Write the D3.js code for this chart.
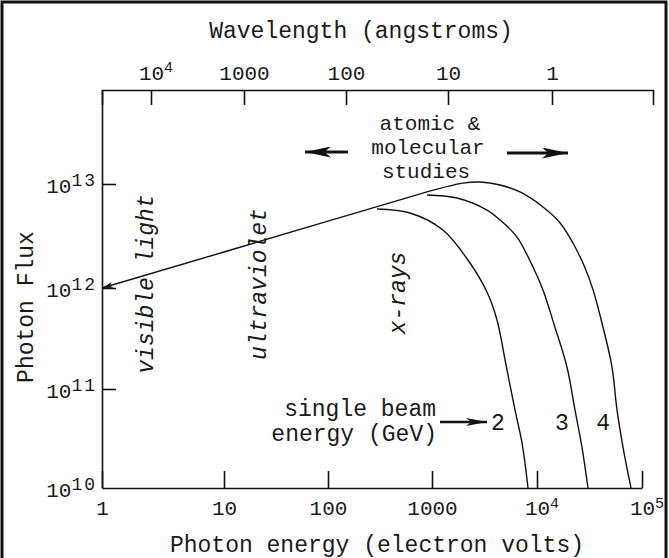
<!DOCTYPE html>
<html>
<head>
<meta charset="utf-8">
<script src="https://cdn.jsdelivr.net/npm/d3@7"></script>
<style>
  body { margin: 0; background: #fff; }
  svg { display: block; }
  text { font-family: "Liberation Mono", "Courier New", monospace; fill: #1a1a1a; }
  .axis path, .axis line { stroke: #111; stroke-width: 1.6; }
  .curve { fill: none; stroke: #111; stroke-width: 1.4; }
</style>
</head>
<body>
<svg id="graf" width="669" height="558"></svg>
<script>
// datos
const energyTicks = [1, 10, 100, 1000, 1e4, 1e5];        // eV
const fluxTicks = [1e10, 1e11, 1e12, 1e13];
const wavelengthTicks = [1e4, 1000, 100, 10, 1];          // angstroms

// envolvente comun (luz visible -> ~900 eV)
const envelope = [[1, 1e12], [10, 2.22e12], [100, 4.39e12], [895, 8.4e12]];
// curvas por energia del haz (GeV)
const beam2 = [[296, 5.75e12], [614, 5.26e12], [1270, 3.61e12], [2300, 1.74e12], [3340, 9.12e11],
  [4160, 4.82e11], [5070, 1.73e11], [6170, 6.14e10], [7200, 2.85e10], [8210, 1e10]];
const beam3 = [[895, 7.83e12], [1730, 7.33e12], [3340, 5.62e12], [4450, 4.51e12], [6450, 3.09e12],
  [9160, 1.59e12], [11400, 9.55e11], [14800, 4.11e11], [19300, 1.65e11], [23000, 6.14e10],
  [26800, 2.59e10], [30600, 1e10]];
const beam4 = [[895, 8.4e12], [1970, 1.02e13], [2870, 1.045e13], [4450, 9.78e12], [6890, 8.38e12],
  [11400, 6.01e12], [16600, 4.22e12], [22000, 2.71e12], [28700, 1.56e12], [34200, 9.55e11],
  [42500, 4.11e11], [51800, 1.65e11], [57800, 6.14e10], [65900, 2.59e10], [78600, 1e10]];
const beamNames = ["2", "3", "4"];
const beamLabelEnergy = [4250, 17300, 42600];

const svg = d3.select("#graf");

// escalas (la figura original esta dibujada a mano: decadas no uniformes)
const x = d3.scaleLog().domain([1, 10, 100, 1000, 1e4, 1e5]).range([102, 224, 328, 432, 537, 642]);
const y = d3.scaleLog().domain([1e10, 1e11, 1e12, 1e13, 8e13]).range([488, 389, 288, 184, 90]);
const xTop = d3.scaleLog().domain([2e4, 1e4, 1e3, 100, 10, 1, 0.1]).range([102, 151, 244, 346, 448, 552, 653]);

// marco
svg.append("rect").attr("x", 2).attr("y", 2).attr("width", 664).attr("height", 580)
  .attr("fill", "none").attr("stroke", "#111").attr("stroke-width", 3);

// puntas de flecha
const defs = svg.append("defs");
const addHead = (id, w, h) => {
  defs.append("marker").attr("id", id).attr("markerUnits", "userSpaceOnUse")
    .attr("markerWidth", w).attr("markerHeight", h).attr("refX", w).attr("refY", h / 2)
    .attr("orient", "auto-start-reverse")
    .append("path").attr("d", `M0,0 L${w},${h / 2} L0,${h} L${w * 0.25},${h / 2} Z`).attr("fill", "#111");
};
addHead("hSmall", 11, 6);
addHead("hBig", 26, 11);
addHead("hMid", 21, 8);

// etiqueta con exponente
const powLabel = (sel, base, exp, supSize, supDy, spacing) => {
  sel.append("tspan").text(base);
  sel.append("tspan").attr("dy", supDy).attr("font-size", supSize)
    .attr("letter-spacing", spacing).text(exp);
};

// eje inferior
const gx = svg.append("g").attr("class", "axis").attr("transform", `translate(0,${y(1e10)})`)
  .call(d3.axisBottom(x).tickValues(energyTicks).tickSize(-17).tickSizeOuter(0).tickFormat(""));
gx.selectAll(".tick text").each(function (d) {
  const t = d3.select(this).attr("y", 27).attr("dy", null).attr("font-size", 21).attr("fill", "#1a1a1a");
  if (d <= 1000) { t.attr("text-anchor", "middle").text(d); }
  else { t.attr("text-anchor", "start").attr("x", -12.6); powLabel(t, "10", Math.round(Math.log10(d)), 15, -7, 0); }
});

// eje izquierdo
const gy = svg.append("g").attr("class", "axis").attr("transform", `translate(${x(1)},0)`)
  .call(d3.axisLeft(y).tickValues(fluxTicks).tickSize(-14).tickSizeOuter(0).tickFormat(""));
gy.selectAll(".tick text").each(function (d) {
  const t = d3.select(this).attr("x", -5).attr("dy", null).attr("y", 8).attr("text-anchor", "end")
    .attr("font-size", 21).attr("fill", "#1a1a1a");
  powLabel(t, "10", Math.round(Math.log10(d)), 18, -7, 2);
});
gy.selectAll(".tick").filter(d => d === 1e10).select("line").remove();

// eje superior (longitud de onda)
const gt = svg.append("g").attr("class", "axis").attr("transform", `translate(0,${y(8e13)})`)
  .call(d3.axisTop(xTop).tickValues(wavelengthTicks).tickSize(-15).tickSizeOuter(-15).tickFormat(""));
gt.selectAll(".tick text").each(function (d) {
  const t = d3.select(this).attr("y", -10).attr("dy", null).attr("font-size", 21).attr("fill", "#1a1a1a");
  if (d < 1e4) { t.attr("text-anchor", "middle").text(d); }
  else { t.attr("text-anchor", "start").attr("x", -12.6); powLabel(t, "10", Math.round(Math.log10(d)), 15, -8, 0); }
});

// curvas
const line = d3.line().x(d => x(d[0])).y(d => y(d[1])).curve(d3.curveCatmullRom);
svg.append("path").attr("class", "curve").attr("d", d3.line().x(d => x(d[0])).y(d => y(d[1]))(envelope))
  .attr("marker-start", "url(#hSmall)");
[beam2, beam3, beam4].forEach(b => svg.append("path").attr("class", "curve").attr("d", line(b)));

// textos
const label = (txt, px, py, size, opts = {}) => {
  const t = svg.append("text").attr("x", px).attr("y", py).attr("font-size", size)
    .attr("text-anchor", opts.anchor || "middle").text(txt);
  if (opts.italic) t.attr("font-style", "italic");
  if (opts.rotate) t.attr("transform", `rotate(-90,${px},${py})`);
  return t;
};
label("Wavelength (angstroms)", 361, 38, 23);
label("Photon energy (electron volts)", 377, 552, 23);
label("Photon Flux", 33, 307, 23, { rotate: true });

label("visible light", 153, 284, 23, { rotate: true, italic: true });
label("ultraviolet", 266, 284, 23, { rotate: true, italic: true });
label("x-rays", 405, 293, 23, { rotate: true, italic: true });

label("atomic &", 430, 130, 21);
label("molecular", 428, 154, 21);
label("studies", 426, 178, 21);
svg.append("line").attr("x1", 348).attr("y1", 152).attr("x2", 305).attr("y2", 152)
  .attr("stroke", "#111").attr("stroke-width", 3).attr("marker-end", "url(#hBig)");
svg.append("line").attr("x1", 507).attr("y1", 153).attr("x2", 568).attr("y2", 153)
  .attr("stroke", "#111").attr("stroke-width", 3).attr("marker-end", "url(#hBig)");

label("single beam", 436, 416, 23, { anchor: "end" });
label("energy (GeV)", 437, 441, 23, { anchor: "end" });
svg.append("line").attr("x1", 440).attr("y1", 422).attr("x2", 487).attr("y2", 422)
  .attr("stroke", "#111").attr("stroke-width", 2.5).attr("marker-end", "url(#hMid)");
beamNames.forEach((n, i) => label(n, x(beamLabelEnergy[i]), 430, 23));
</script>
</body>
</html>
